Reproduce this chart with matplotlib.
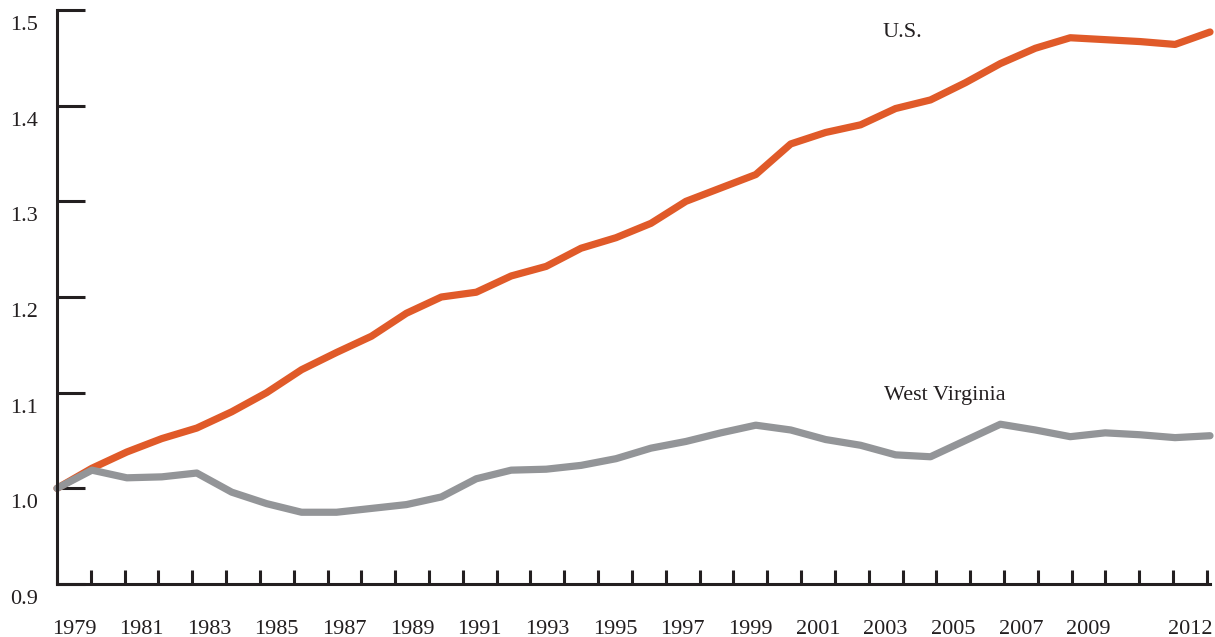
import numpy as np
import matplotlib
matplotlib.use("Agg")
import matplotlib.pyplot as plt
from matplotlib.transforms import ScaledTranslation

# index relative to US and West Virginia, 1979 = 1.0
years = list(range(1979, 2013))
us = [1.000, 1.021, 1.038, 1.052, 1.063, 1.080, 1.100, 1.124, 1.142, 1.159,
      1.183, 1.200, 1.205, 1.222, 1.232, 1.251, 1.262, 1.277, 1.300, 1.314,
      1.328, 1.360, 1.372, 1.380, 1.397, 1.406, 1.424, 1.444, 1.460, 1.471,
      1.469, 1.467, 1.464, 1.477]
wv = [1.000, 1.019, 1.011, 1.012, 1.016, 0.996, 0.984, 0.975, 0.975, 0.979,
      0.983, 0.991, 1.010, 1.019, 1.020, 1.024, 1.031, 1.042, 1.049, 1.058,
      1.066, 1.061, 1.051, 1.045, 1.035, 1.033, 1.050, 1.067, 1.061, 1.054,
      1.058, 1.056, 1.053, 1.055]
x_labels = ["1979", "1981", "1983", "1985", "1987", "1989", "1991", "1993",
            "1995", "1997", "1999", "2001", "2003", "2005", "2007", "2009", "2012"]
y_ticks = [0.9, 1.0, 1.1, 1.2, 1.3, 1.4, 1.5]

ink = "#231f20"
orange = "#e05a29"
grey = "#939598"
plt.rcParams["font.family"] = ["Liberation Serif", "DejaVu Serif"]

W, H = 1215, 637
fig = plt.figure(figsize=(W / 100, H / 100), dpi=100)
left, right, top, bottom = 57, 1213, 10, 584
ax = fig.add_axes([left / W, 1 - bottom / H, (right - left) / W, (bottom - top) / H])

x = np.arange(len(years))
step = 33 / 1153  # data units per pixel
ax.set_xlim(0, (right - left) * step)
ax.set_ylim(0.9, 1.5)

ax.plot(x, us, color=orange, lw=5.2, solid_capstyle="round", solid_joinstyle="round", clip_on=False)
ax.plot(x, wv, color=grey, lw=5.2, solid_capstyle="round", solid_joinstyle="round", clip_on=False)

for s in ["top", "right"]:
    ax.spines[s].set_visible(False)
for s in ["left", "bottom"]:
    ax.spines[s].set_color(ink)
    ax.spines[s].set_linewidth(2.2)
ax.spines["bottom"].set_bounds(0, 1153 * step)

# tick marks along the bottom, labels sit between them
tick_gap = 33.82 * step
ax.set_xticks([k * tick_gap for k in range(35)])
ax.set_xticklabels([])
idx = list(range(0, 31, 2)) + [33]
ax.set_xticks([(k + 0.5) * tick_gap for k in idx], minor=True)
ax.set_xticklabels(x_labels, minor=True)
ax.tick_params(axis="x", which="major", direction="in", length=10, width=2.2, color=ink)
ax.tick_params(axis="x", which="minor", length=0, pad=26, labelsize=16, labelcolor=ink)

ax.set_yticks(y_ticks)
ax.set_yticklabels([f"{v:.1f}" for v in y_ticks])
ax.tick_params(axis="y", direction="in", length=20, width=2.2, color=ink,
               pad=14, labelsize=16, labelcolor=ink)
shift = ScaledTranslation(0, -13 / 100, fig.dpi_scale_trans)
for lab in ax.get_yticklabels():
    lab.set_transform(lab.get_transform() + shift)

ax.text((902 - left) * step, 1.5 - (33 - top) / 957, "U.S.",
        ha="center", va="center", fontsize=16, color=ink)
ax.text((945 - left) * step, 1.5 - (396 - top) / 957, "West Virginia",
        ha="center", va="center", fontsize=16, color=ink)

fig.savefig("out.png", dpi=100)
